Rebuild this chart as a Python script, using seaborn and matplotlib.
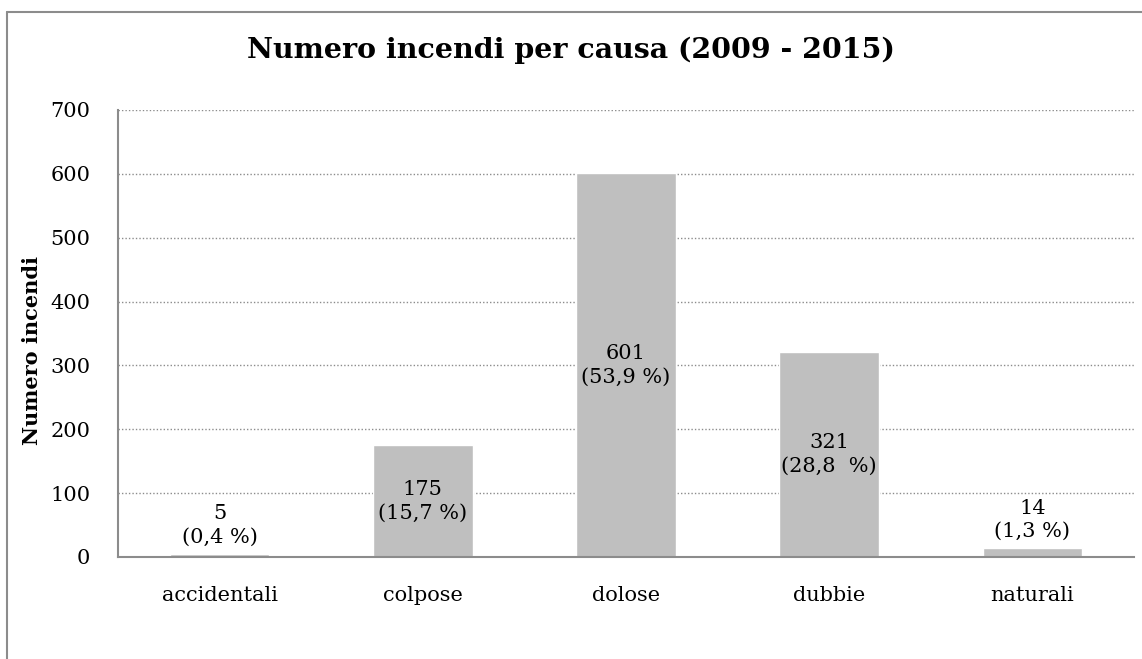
import matplotlib
matplotlib.use("Agg")
import matplotlib.pyplot as plt
import pandas as pd
import seaborn as sns
from matplotlib.lines import Line2D

# Data
categories = ['accidentali', 'colpose', 'dolose', 'dubbie', 'naturali']
counts = [5, 175, 601, 321, 14]
percent_labels = ['(0,4 %)', '(15,7 %)', '(53,9 %)', '(28,8  %)', '(1,3 %)']
y_ticks = [0, 100, 200, 300, 400, 500, 600, 700]

title = 'Numero incendi per causa (2009 - 2015)'
y_label = 'Numero incendi'

df = pd.DataFrame({'causa': categories, 'incendi': counts})

sns.set_style("white")
plt.rcParams['font.family'] = ['DejaVu Serif']
plt.rcParams['text.color'] = 'black'
plt.rcParams['axes.labelcolor'] = 'black'

fs = 15

fig = plt.figure(figsize=(11.42, 6.59), dpi=100)
ax = fig.add_axes([0.1033, 0.1548, 0.8897, 0.6783])

sns.barplot(data=df, x='causa', y='incendi', color='#bfbfbf', width=0.49,
            saturation=1, ax=ax, zorder=2)

ax.set_ylim(0, 700)
ax.set_yticks(y_ticks)
ax.set_xlim(-0.5, len(categories) - 0.5)

# dotted gridlines
ax.yaxis.grid(True, linestyle=(0, (1, 1.5)), color='#8c8c8c', linewidth=1, zorder=1)
ax.set_axisbelow(True)

for side in ['top', 'right']:
    ax.spines[side].set_visible(False)
for side in ['left', 'bottom']:
    ax.spines[side].set_color('#8c8c8c')
    ax.spines[side].set_linewidth(1.5)

ax.tick_params(axis='y', length=8, width=1.5, color='#8c8c8c', labelcolor='black',
               labelsize=fs, pad=12)
ax.tick_params(axis='x', length=0, labelsize=fs, labelcolor='black', pad=21)
ax.set_xlabel('')
ax.set_ylabel(y_label, fontsize=fs, fontweight='bold')
ax.yaxis.set_label_coords(-0.075, 0.463)

# value labels
for i, (v, p) in enumerate(zip(counts, percent_labels)):
    txt = f'{v}\n{p}'
    if v > 50:
        ax.text(i, v / 2, txt, ha='center', va='center', fontsize=fs,
                linespacing=1.3, zorder=3)
    else:
        ax.annotate(txt, (i, v), xytext=(0, 5), textcoords='offset points',
                    ha='center', va='bottom', fontsize=fs, linespacing=1.3)

fig.text(0.5, 0.924, title, ha='center', va='center', fontsize=20.5, fontweight='bold')

# chart frame (left and top edges)
fig.add_artist(Line2D([0.0061, 0.0061], [0.0, 0.982], color='#8c8c8c', lw=1.5,
                      transform=fig.transFigure))
fig.add_artist(Line2D([0.0061, 1.0], [0.982, 0.982], color='#8c8c8c', lw=1.5,
                      transform=fig.transFigure))

fig.savefig('out.png', dpi=100)
